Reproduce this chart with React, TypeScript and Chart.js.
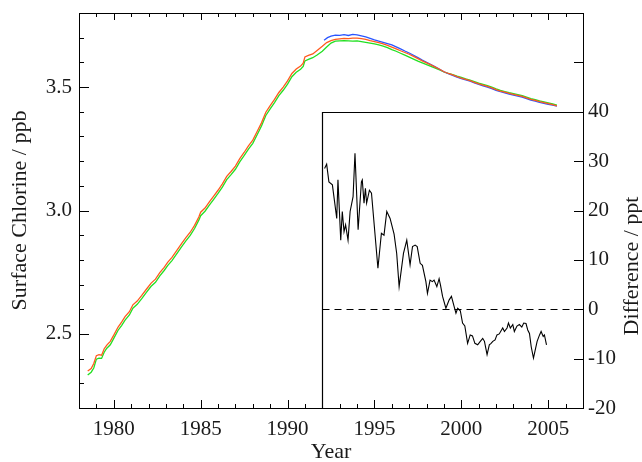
import React, { useEffect, useRef } from "react";
import { Chart, registerables } from "chart.js";

Chart.register(...registerables);

// ---- Data ----
const redYears = [1978.5,1978.7,1978.85,1979.0,1979.15,1979.3,1979.45,1979.6,1979.8,1980.0,1980.25,1980.45,1980.65,1980.9,1981.1,1981.35,1981.6,1981.9,1982.15,1982.4,1982.65,1982.9,1983.1,1983.35,1983.6,1983.9,1984.15,1984.4,1984.65,1984.9,1985.0,1985.25,1985.5,1985.75,1986.0,1986.25,1986.5,1986.75,1987.0,1987.25,1987.5,1987.75,1988.0,1988.25,1988.5,1988.75,1989.0,1989.25,1989.5,1989.75,1990.0,1990.25,1990.5,1990.75,1990.9,1991.0,1991.2,1991.45,1991.7,1992.0,1992.25,1992.5,1992.75,1993.0,1993.25,1993.5,1993.75,1994.0,1994.25,1994.5,1994.75,1995.0,1995.25,1995.5,1995.75,1996.0,1996.25,1996.5,1996.75,1997.0,1997.25,1997.5,1997.75,1998.0,1998.25,1998.5,1998.75,1999.0,1999.25,1999.5,1999.75,2000.0,2000.25,2000.5,2000.75,2001.0,2001.25,2001.5,2001.75,2002.0,2002.25,2002.5,2002.75,2003.0,2003.25,2003.5,2003.75,2004.0,2004.25,2004.5,2004.75,2005.0,2005.25,2005.5];
const redValues = [2.350,2.360,2.380,2.412,2.416,2.414,2.440,2.455,2.470,2.495,2.528,2.548,2.570,2.590,2.618,2.633,2.655,2.683,2.706,2.722,2.748,2.770,2.790,2.810,2.835,2.866,2.890,2.912,2.940,2.975,2.993,3.010,3.035,3.058,3.082,3.108,3.138,3.158,3.180,3.210,3.235,3.262,3.285,3.320,3.355,3.398,3.425,3.450,3.478,3.500,3.525,3.555,3.573,3.585,3.597,3.622,3.628,3.634,3.648,3.665,3.680,3.688,3.693,3.695,3.697,3.696,3.698,3.698,3.696,3.693,3.688,3.684,3.680,3.675,3.669,3.662,3.655,3.647,3.640,3.633,3.624,3.615,3.606,3.598,3.590,3.581,3.572,3.562,3.555,3.549,3.542,3.536,3.531,3.526,3.519,3.513,3.508,3.503,3.497,3.490,3.484,3.479,3.474,3.470,3.466,3.462,3.456,3.450,3.446,3.441,3.437,3.433,3.429,3.424];

const greenYears = redYears;
const greenValues = [2.334,2.345,2.362,2.398,2.402,2.401,2.426,2.442,2.456,2.482,2.515,2.534,2.556,2.577,2.604,2.620,2.642,2.670,2.693,2.709,2.735,2.757,2.777,2.797,2.822,2.853,2.877,2.899,2.927,2.962,2.979,2.997,3.022,3.045,3.069,3.095,3.125,3.145,3.167,3.197,3.222,3.249,3.272,3.307,3.342,3.385,3.412,3.437,3.465,3.487,3.512,3.542,3.560,3.572,3.584,3.606,3.612,3.619,3.630,3.645,3.662,3.678,3.686,3.687,3.688,3.687,3.686,3.687,3.684,3.681,3.678,3.675,3.671,3.666,3.660,3.652,3.645,3.637,3.629,3.621,3.613,3.605,3.598,3.591,3.584,3.577,3.569,3.561,3.555,3.550,3.544,3.539,3.533,3.528,3.522,3.516,3.511,3.506,3.500,3.493,3.487,3.482,3.477,3.473,3.469,3.465,3.459,3.453,3.449,3.444,3.440,3.436,3.432,3.427];

const blueYears = [1992.1,1992.3,1992.5,1992.75,1993.0,1993.25,1993.5,1993.75,1994.0,1994.25,1994.5,1994.75,1995.0,1995.25,1995.5,1995.75,1996.0,1996.25,1996.5,1996.75,1997.0,1997.25,1997.5,1997.75,1998.0,1998.25,1998.5,1998.75,1999.0,1999.25,1999.5,1999.75,2000.0,2000.25,2000.5,2000.75,2001.0,2001.25,2001.5,2001.75,2002.0,2002.25,2002.5,2002.75,2003.0,2003.25,2003.5,2003.75,2004.0,2004.25,2004.5,2004.75,2005.0,2005.25,2005.5];
const blueValues = [3.690,3.700,3.706,3.710,3.709,3.712,3.709,3.713,3.711,3.707,3.703,3.697,3.691,3.686,3.681,3.676,3.671,3.663,3.655,3.646,3.638,3.629,3.619,3.609,3.600,3.591,3.582,3.572,3.562,3.554,3.547,3.540,3.534,3.529,3.524,3.517,3.511,3.505,3.500,3.494,3.487,3.481,3.476,3.471,3.467,3.463,3.459,3.453,3.447,3.443,3.438,3.434,3.430,3.427,3.423];

const diffYears = [1992.13,1992.25,1992.38,1992.58,1992.83,1992.9,1993.06,1993.15,1993.25,1993.34,1993.48,1993.6,1993.77,1993.88,1994.06,1994.25,1994.3,1994.4,1994.48,1994.55,1994.71,1994.83,1995.2,1995.4,1995.55,1995.71,1995.9,1996.13,1996.28,1996.42,1996.67,1996.86,1997.05,1997.19,1997.34,1997.46,1997.63,1997.76,1997.96,1998.05,1998.2,1998.33,1998.43,1998.59,1998.72,1998.8,1998.92,1999.11,1999.3,1999.43,1999.59,1999.69,1999.79,1999.94,2000.07,2000.2,2000.36,2000.51,2000.64,2000.78,2000.94,2001.09,2001.23,2001.33,2001.48,2001.61,2001.71,2001.81,2001.94,2002.05,2002.18,2002.38,2002.48,2002.63,2002.71,2002.82,2002.96,2003.05,2003.2,2003.34,2003.48,2003.59,2003.72,2003.82,2003.92,2004.02,2004.15,2004.25,2004.36,2004.5,2004.59,2004.71,2004.78,2004.9];
const diffValues = [28.5,29.4,25.8,25.2,18.4,26.2,14.0,19.8,15.7,17.1,14.0,19.8,22.8,31.6,16.1,25.8,26.2,21.5,24.5,21.5,24.1,23.5,8.3,15.4,15.0,19.8,18.4,15.2,11.3,4.6,11.3,14.0,9.0,12.7,13.0,12.7,9.3,8.9,5.6,3.2,5.9,5.6,5.9,4.6,6.2,4.9,2.6,0.2,1.9,2.6,0.5,-0.8,0.2,-0.3,-2.8,-3.4,-6.9,-5.2,-5.4,-6.9,-7.2,-6.5,-5.9,-6.5,-9.2,-7.2,-6.9,-6.5,-6.2,-5.2,-5.0,-3.8,-4.5,-3.8,-2.8,-3.8,-3.1,-4.5,-3.4,-3.1,-3.6,-2.8,-2.9,-4.2,-4.9,-7.6,-9.9,-8.3,-6.5,-5.2,-4.5,-5.5,-5.2,-7.2];

const xMin = 1978;
const xMax = 2007;
const leftMin = 2.2;
const leftMax = 3.8;
const rightMin = -20;
const rightMax = 60;
const rightLabelMax = 40;
const insetStart = 1992;

const FONT = "'Liberation Serif', 'Times New Roman', serif";
const TEXT = "#1a1a1a";
const TICK_SIZE = 21;
const TITLE_SIZE = 22;

const pts = (xs: number[], ys: number[]) => xs.map((x, i) => ({ x, y: ys[i] }));

const framePlugin = {
  id: "frame",
  afterDraw(chart: any) {
    const { ctx, chartArea } = chart;
    const { left, right, top, bottom } = chartArea;
    const x = chart.scales.x;
    const y = chart.scales.y;
    const y2 = chart.scales.y2;
    ctx.save();
    ctx.strokeStyle = "#000";
    ctx.lineWidth = 1;
    const line = (x1: number, y1: number, x2: number, y2p: number) => {
      ctx.beginPath();
      ctx.moveTo(x1, y1);
      ctx.lineTo(x2, y2p);
      ctx.stroke();
    };
    // top border
    line(left, top + 0.5, right, top + 0.5);
    // x ticks (bottom, top)
    for (let v = xMin; v <= xMax; v++) {
      const px = Math.round(x.getPixelForValue(v)) + 0.5;
      const major = v % 5 === 0;
      line(px, bottom, px, bottom - (major ? 8 : 4));
      line(px, top, px, top + (major ? 7 : 4));
    }
    // left ticks
    for (let i = Math.round(leftMin * 10); i <= Math.round(leftMax * 10); i++) {
      const py = Math.round(y.getPixelForValue(i / 10)) + 0.5;
      const major = i % 5 === 0;
      line(left, py, left + (major ? 10 : 5), py);
    }
    // right ticks
    for (let v = rightMin; v <= rightMax; v += 10) {
      const py = Math.round(y2.getPixelForValue(v)) + 0.5;
      line(right, py, right - 9, py);
    }
    // inset frame
    const x0 = Math.round(x.getPixelForValue(insetStart)) + 0.5;
    const yT = Math.round(y2.getPixelForValue(rightLabelMax)) + 0.5;
    ctx.lineWidth = 1.2;
    ctx.beginPath();
    ctx.moveTo(x0, bottom);
    ctx.lineTo(x0, yT);
    ctx.lineTo(right, yT);
    ctx.stroke();
    // dashed zero line
    const yz = Math.round(y2.getPixelForValue(0)) + 0.5;
    ctx.lineWidth = 1;
    ctx.setLineDash([7, 5]);
    line(x0, yz, right, yz);
    ctx.setLineDash([]);
    // right title (reads bottom-to-top)
    ctx.fillStyle = TEXT;
    ctx.font = `${TITLE_SIZE}px ${FONT}`;
    ctx.textAlign = "center";
    ctx.textBaseline = "alphabetic";
    ctx.translate(638, 266);
    ctx.rotate(-Math.PI / 2);
    ctx.fillText("Difference / ppt", 0, 0);
    ctx.restore();
  },
};

export default function App() {
  const canvasRef = useRef<HTMLCanvasElement | null>(null);

  useEffect(() => {
    const canvas = canvasRef.current;
    if (!canvas) return;
    const chart = new Chart(canvas, {
      type: "line",
      data: {
        datasets: [
          {
            label: "Difference",
            data: pts(diffYears, diffValues),
            yAxisID: "y2",
            borderColor: "#000",
            borderWidth: 1.1,
            pointRadius: 0,
            tension: 0,
          },
          {
            label: "Red",
            data: pts(redYears, redValues),
            yAxisID: "y",
            borderColor: "#ff5a1e",
            borderWidth: 1.3,
            pointRadius: 0,
            tension: 0,
          },
          {
            label: "Blue",
            data: pts(blueYears, blueValues),
            yAxisID: "y",
            borderColor: "#2a55ff",
            borderWidth: 1.3,
            pointRadius: 0,
            tension: 0,
          },
          {
            label: "Green",
            data: pts(greenYears, greenValues),
            yAxisID: "y",
            borderColor: "#22e022",
            borderWidth: 1.3,
            pointRadius: 0,
            tension: 0,
          },
        ],
      },
      options: {
        animation: false,
        responsive: false,
        devicePixelRatio: 1,
        layout: { padding: { top: 13, left: 0, right: 0, bottom: 0 } },
        plugins: { legend: { display: false }, tooltip: { enabled: false } },
        scales: {
          x: {
            type: "linear",
            position: "bottom",
            min: xMin,
            max: xMax,
            grid: { display: false, drawTicks: false },
            border: { display: true, color: "#000", width: 1 },
            ticks: {
              stepSize: 1,
              autoSkip: false,
              maxRotation: 0,
              padding: 9,
              color: TEXT,
              font: { family: FONT, size: TICK_SIZE },
              callback: (v: any) => (Number(v) % 5 === 0 ? String(v) : ""),
            },
            title: {
              display: true,
              text: "Year",
              color: TEXT,
              font: { family: FONT, size: TITLE_SIZE, lineHeight: 0.85 },
              padding: 0,
            },
            afterFit: (s: any) => {
              s.height = 54;
              s.paddingLeft = 0;
              s.paddingRight = 0;
            },
          },
          y: {
            type: "linear",
            position: "left",
            min: leftMin,
            max: leftMax,
            grid: { display: false, drawTicks: false },
            border: { display: true, color: "#000", width: 1 },
            ticks: {
              stepSize: 0.1,
              autoSkip: false,
              padding: 7,
              color: TEXT,
              font: { family: FONT, size: TICK_SIZE },
              callback: (v: any) => {
                const n = Number(v);
                return Math.abs(n * 2 - Math.round(n * 2)) < 1e-6 ? n.toFixed(1) : "";
              },
            },
            title: {
              display: true,
              text: "Surface Chlorine / ppb",
              color: TEXT,
              font: { family: FONT, size: TITLE_SIZE, lineHeight: 1.2 },
              padding: { top: 7, bottom: 0 },
            },
            afterFit: (s: any) => {
              s.width = 79;
              s.paddingTop = 0;
              s.paddingBottom = 0;
            },
          },
          y2: {
            type: "linear",
            position: "right",
            min: rightMin,
            max: rightMax,
            grid: { display: false, drawTicks: false },
            border: { display: true, color: "#000", width: 1 },
            ticks: {
              stepSize: 10,
              autoSkip: false,
              padding: 5,
              color: TEXT,
              font: { family: FONT, size: TICK_SIZE },
              callback: (v: any) => {
                const n = Math.round(Number(v));
                return n <= rightLabelMax ? String(n) : "";
              },
            },
            afterFit: (s: any) => {
              s.width = 59;
              s.paddingTop = 0;
              s.paddingBottom = 0;
            },
          },
        },
      },
      plugins: [framePlugin],
    });
    return () => chart.destroy();
  }, []);

  return (
    <div style={{ position: "fixed", left: 0, top: 0, width: 642, height: 462, background: "#fff" }}>
      <canvas ref={canvasRef} width={642} height={462} style={{ display: "block" }} />
    </div>
  );
}
